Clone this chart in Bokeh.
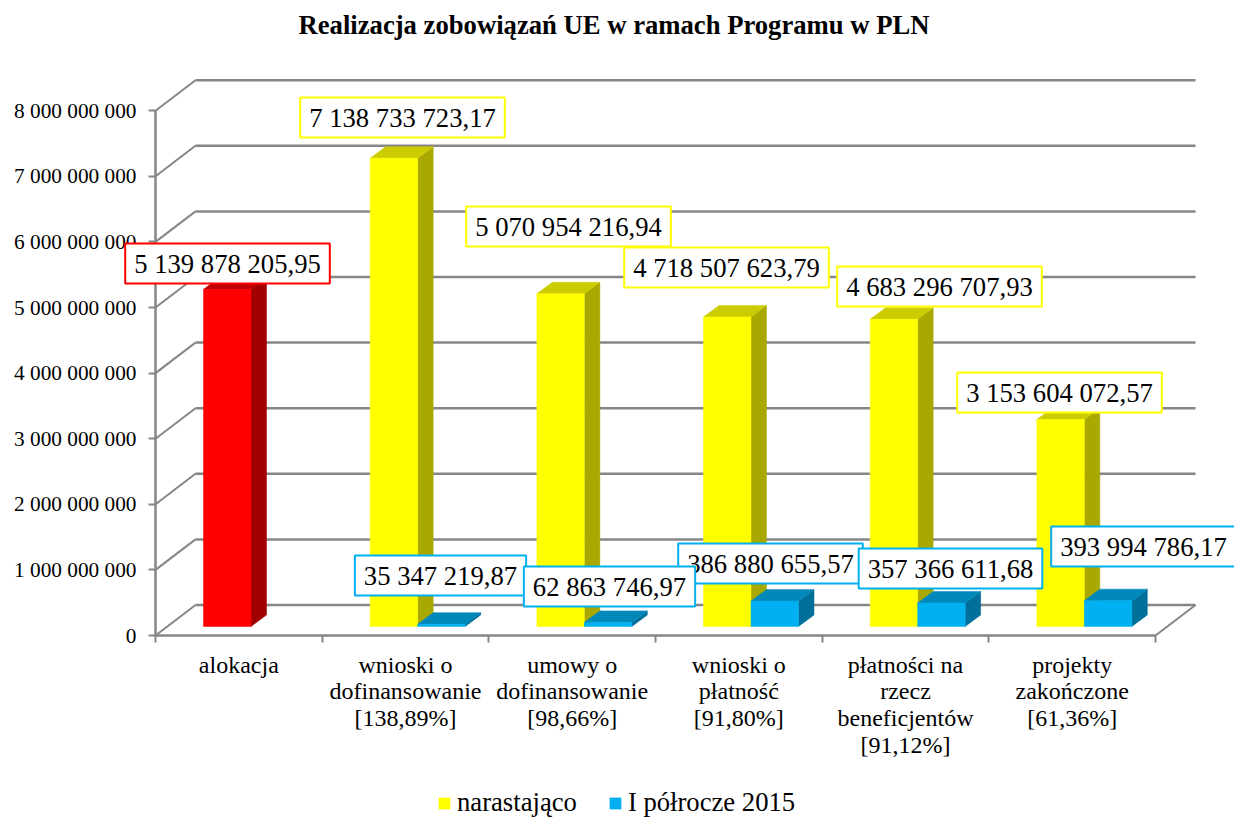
from bokeh.plotting import figure
from bokeh.models import (FixedTicker, Label, Legend, LegendItem, LinearAxis, Range1d, Title)
from bokeh.embed import file_html
from bokeh.resources import INLINE

# ---- data -------------------------------------------------------------
title_text = "Realizacja zobowiązań UE w ramach Programu w PLN"
categories = ["alokacja",
              "wnioski o\ndofinansowanie\n[138,89%]",
              "umowy o\ndofinansowanie\n[98,66%]",
              "wnioski o\npłatność\n[91,80%]",
              "płatności na\nrzecz\nbeneficjentów\n[91,12%]",
              "projekty\nzakończone\n[61,36%]"]
narastajaco = [5139878205.95, 7138733723.17, 5070954216.94,
               4718507623.79, 4683296707.93, 3153604072.57]
polrocze = [None, 35347219.87, 62863746.97, 386880655.57, 357366611.68, 393994786.17]
y_ticks = [0, 1000000000, 2000000000, 3000000000, 4000000000,
           5000000000, 6000000000, 7000000000, 8000000000]
y_tick_labels = ["0", "1 000 000 000", "2 000 000 000", "3 000 000 000", "4 000 000 000",
                 "5 000 000 000", "6 000 000 000", "7 000 000 000", "8 000 000 000"]
series_names = ["narastająco", "I półrocze 2015"]

# ---- layout (page pixels of the reference) ------------------------------
W, H = 1234, 818
TOP = 44                         # frame top, below the title
FX0, FY0 = 155.0, 635.0          # front-left corner of the floor
PX_X = 1000.0 / 6.0              # px per category
PX_Y = 65.6 / 1e9                # px per unit of value
WALL_DX, WALL_DY = 40.0, 30.5    # depth of the box
BAR_GAP, BAR_W = 48.0, 47.5
BAR_LIFT = 9.0                   # bar base above the front axis
SIDE_DX, SIDE_DY = 15.5, 11.5

FONT = "Liberation Serif"
GRID = "#868686"

def dx(px):
    return px / PX_X

def dy(px):
    return px / PX_Y

def X(px):
    return (px - FX0) / PX_X

def Y(py):
    return (FY0 - py) / PX_Y

p = figure(width=W, height=H, output_backend="svg", toolbar_location=None,
           x_range=Range1d(X(0), X(W)), y_range=Range1d(Y(H), Y(TOP)),
           x_axis_type=None, y_axis_type=None,
           min_border_left=0, min_border_right=0, min_border_top=TOP, min_border_bottom=0,
           background_fill_color="white", border_fill_color="white", outline_line_color=None)
p.grid.visible = False

# ---- title ------------------------------------------------------------
ttl = Title(text=title_text, align="left", offset=298, text_font=FONT, text_font_size="26.67px",
            text_font_style="bold", text_color="black", standoff=10)
p.add_layout(ttl, "above")

# ---- box --------------------------------------------------------------
wall_w = dx(WALL_DX)
wall_h = dy(WALL_DY)
p.segment(x0=[wall_w] * len(y_ticks), y0=[t + wall_h for t in y_ticks],
          x1=[6 + wall_w] * len(y_ticks), y1=[t + wall_h for t in y_ticks],
          line_color=GRID, line_width=2.5)
p.segment(x0=[0] * len(y_ticks), y0=y_ticks,
          x1=[wall_w] * len(y_ticks), y1=[t + wall_h for t in y_ticks],
          line_color=GRID, line_width=2)
p.segment(x0=[6], y0=[0], x1=[6 + wall_w], y1=[wall_h], line_color=GRID, line_width=2)

# ---- bars -------------------------------------------------------------
def bar3d(indices, values, x_shift, front, side, top):
    base = dy(BAR_LIFT)
    w = dx(BAR_W)
    sx = dx(SIDE_DX)
    sy = dy(SIDE_DY)
    left = [i + dx(BAR_GAP + x_shift) for i in indices]
    right = [l + w for l in left]
    tops = [base + v for v in values]
    p.patches(xs=[[r, r + sx, r + sx, r] for r in right],
              ys=[[base, base + sy, t + sy, t] for t in tops],
              fill_color=side, line_color=side, line_width=0.5)
    p.patches(xs=[[l, l + sx, r + sx, r] for l, r in zip(left, right)],
              ys=[[t, t + sy, t + sy, t] for t in tops],
              fill_color=top, line_color=top, line_width=0.5)
    return p.quad(left=left, right=right, bottom=[base] * len(left), top=tops,
                  fill_color=front, line_color=front, line_width=0.5)

bar3d([0], narastajaco[:1], 0, "#FF0000", "#A00000", "#C00000")
yellow = bar3d(list(range(1, 6)), narastajaco[1:], 0, "#FFFF00", "#A8A800", "#CCCC00")
blue = bar3d(list(range(1, 6)), polrocze[1:], BAR_W, "#00B0F0", "#00709A", "#0088BA")

# ---- axes -------------------------------------------------------------
yaxis = LinearAxis(fixed_location=0, ticker=FixedTicker(ticks=y_ticks), bounds=(0, y_ticks[-1]),
                   major_label_overrides=dict(zip(y_ticks, y_tick_labels)),
                   axis_line_color=GRID, axis_line_width=2.5,
                   major_tick_line_color=GRID, major_tick_line_width=2,
                   major_tick_in=0, major_tick_out=7, minor_tick_line_color=None,
                   major_label_standoff=12, major_label_text_font=FONT,
                   major_label_text_font_size="21.3px", major_label_text_color="black")
p.add_layout(yaxis, "left")

centers = [i + 0.5 for i in range(len(categories))]
edges = list(range(len(categories) + 1))
xaxis = LinearAxis(fixed_location=0, ticker=FixedTicker(ticks=centers, minor_ticks=edges), bounds=(0, 6),
                   major_label_overrides=dict(zip(centers, categories)),
                   axis_line_color=GRID, axis_line_width=2.5,
                   major_tick_line_color=None, major_tick_in=0, major_tick_out=0,
                   minor_tick_line_color=GRID, minor_tick_line_width=2,
                   minor_tick_in=0, minor_tick_out=7,
                   major_label_standoff=9, major_label_text_font=FONT,
                   major_label_text_font_size="24px", major_label_text_color="black",
                   major_label_text_align="center", major_label_text_line_height=1.03)
p.add_layout(xaxis, "below")

# ---- value labels -----------------------------------------------------
def fmt(v):
    return f"{v:,.2f}".replace(",", " ").replace(".", ",")

yellow_pos = [(227, 263), (402, 117), (568, 226), (726, 267), (939, 286), (1059, 392)]
blue_pos = [None, (440, 575), (609, 586), (770, 563), (950, 568), (1143, 546)]
yellow_cols = ["#FF0000"] + ["#FFFF00"] * 5
blue_order = [1, 3, 4, 5, 2]     # the second label lies over its neighbours

def add_label(text, pos, color):
    p.add_layout(Label(x=X(pos[0]), y=Y(pos[1]), text=text, text_align="center",
                       text_baseline="middle", text_font=FONT, text_font_size="26.67px",
                       text_color="black", background_fill_color="white",
                       border_line_color=color, border_line_width=2, padding=(9, 5)))

for v, pos, c in zip(narastajaco, yellow_pos, yellow_cols):
    add_label(fmt(v), pos, c)
for i in blue_order:
    add_label(fmt(polrocze[i]), blue_pos[i], "#00B0F0")

# ---- legend -----------------------------------------------------------
legend = Legend(items=[LegendItem(label=series_names[0], renderers=[yellow]),
                       LegendItem(label=series_names[1], renderers=[blue])],
                orientation="horizontal", location=(437, 0),
                background_fill_alpha=0, border_line_color=None,
                label_text_font=FONT, label_text_font_size="26.67px", label_text_color="black",
                glyph_width=14, glyph_height=14, spacing=31, padding=0, margin=0,
                label_standoff=6)
p.add_layout(legend)

open("out.html", "w").write(file_html(p, INLINE))
